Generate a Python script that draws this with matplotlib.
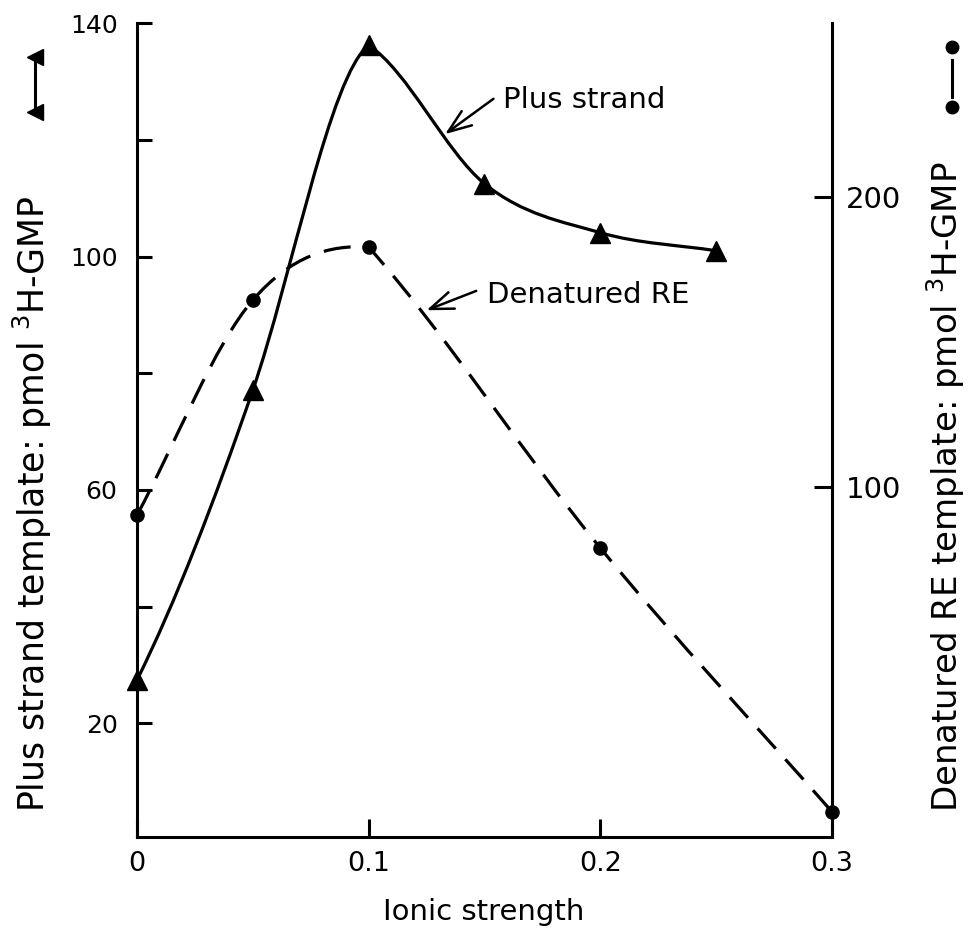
"""Plus strand vs denatured RE template activity against ionic strength."""

import numpy as np
import matplotlib
matplotlib.use("Agg")
import matplotlib.pyplot as plt
from matplotlib.path import Path
from matplotlib.patches import PathPatch
from matplotlib.lines import Line2D

# data
ionic_plus = [0.0, 0.05, 0.10, 0.15, 0.20, 0.25]
plus_strand = [27.4, 77.1, 136.2, 112.5, 104.1, 101.0]   # left axis

ionic_re = [0.0, 0.05, 0.10, 0.20, 0.30]
denatured_re = [90.3, 164.5, 182.8, 79.0, -12.0]           # right axis

x_ticks = [0, 0.1, 0.2, 0.3]
x_ticklabels = ["0", "0.1", "0.2", "0.3"]
left_major = [20, 60, 100, 140]
left_minor = [40, 80, 120]
right_ticks = [100, 200]


def smooth_path(x, y, corners=None):
    """Hand-drawn style curve through the points (cubic Bezier pieces).

    corners maps a point index to (slope in, slope out) so the pen can
    turn sharply there, like the drawn peaks.
    """
    x = np.asarray(x, float)
    y = np.asarray(y, float)
    d = np.empty_like(y)
    d[0] = (y[1] - y[0]) / (x[1] - x[0])
    d[-1] = (y[-1] - y[-2]) / (x[-1] - x[-2])
    d[1:-1] = (y[2:] - y[:-2]) / (x[2:] - x[:-2])
    d_in, d_out = d.copy(), d.copy()
    for i, (a, b) in (corners or {}).items():
        d_in[i], d_out[i] = a, b
    verts = [(x[0], y[0])]
    for i in range(len(x) - 1):
        h = x[i + 1] - x[i]
        verts += [(x[i] + h / 3, y[i] + d_out[i] * h / 3),
                  (x[i + 1] - h / 3, y[i + 1] - d_in[i + 1] * h / 3),
                  (x[i + 1], y[i + 1])]
    codes = [Path.MOVETO] + [Path.CURVE4] * (len(verts) - 1)
    return Path(verts, codes)


fig = plt.figure(figsize=(9.7, 9.3), dpi=100)
ax = fig.add_axes([0.1412, 0.1, 0.7165, 0.875])
ax2 = ax.twinx()

ax.set_xlim(0, 0.3)
ax.set_ylim(0.5, 140)
ax2.set_ylim(-20.7, 260)

# plus strand: solid curve, triangles
ax.add_patch(PathPatch(smooth_path(ionic_plus, plus_strand,
                                   corners={0: (800, 800), 1: (1150, 1150),
                                            2: (300, -250)}),
                       fill=False, lw=2.3, ec="black", transform=ax.transData))
ax.plot(ionic_plus, plus_strand, ls="none", marker="^", ms=14,
        color="black", clip_on=False, zorder=3)

# denatured RE: dashed curve, dots
ax2.add_patch(PathPatch(smooth_path(ionic_re, denatured_re,
                                    corners={2: (-50, -900)}),
                        fill=False, lw=2.3, ec="black", ls=(0, (8.5, 4.5)),
                        transform=ax2.transData))
ax2.plot(ionic_re, denatured_re, ls="none", marker="o", ms=9.5,
         color="black", clip_on=False, zorder=3)

# spines
for s in ["top", "right"]:
    ax.spines[s].set_visible(False)
for s in ["top", "left", "bottom"]:
    ax2.spines[s].set_visible(False)
for s in ["left", "bottom"]:
    ax.spines[s].set_linewidth(2.2)
ax2.spines["right"].set_linewidth(2.2)

# ticks
ax.set_xticks(x_ticks)
ax.set_xticklabels(x_ticklabels)
ax.set_yticks(left_major)
ax.set_yticks(left_minor, minor=True)
ax.tick_params(axis="both", which="both", direction="in", width=2.2,
               labelsize=18, colors="black")
ax.tick_params(axis="y", which="both", length=11, pad=14)
ax.tick_params(axis="x", length=13, pad=10, labelsize=19.5)
ax.tick_params(axis="x", which="minor", length=0)

ax2.set_yticks(right_ticks)
ax2.tick_params(axis="y", direction="in", length=13, width=2.2,
                labelsize=21, pad=10)

# annotations
arrow = dict(arrowstyle="->, head_length=0.8, head_width=0.3",
             lw=1.8, color="black", shrinkA=6, shrinkB=0, relpos=(0, 0.8))
ax.annotate("Plus strand", xy=(0.133, 121.0), xytext=(0.158, 126.8),
            fontsize=21, va="center", ha="left", arrowprops=arrow)
ax2.annotate("Denatured RE", xy=(0.125, 161.0), xytext=(0.151, 166.2),
             fontsize=21, va="center", ha="left", arrowprops=arrow)

# axis titles
fig.text(484 / 970, 1 - 912 / 930, "Ionic strength", fontsize=21,
         ha="center", va="center")
fig.text(32 / 970, 1 - 812 / 930, "Plus strand template: pmol $^{3}$H-GMP",
         rotation=90, fontsize=25, ha="center", va="bottom")
fig.text(946 / 970, 1 - 812 / 930, "Denatured RE template: pmol $^{3}$H-GMP",
         rotation=90, fontsize=24.5, ha="center", va="bottom")

# little keys after the axis titles
fig.add_artist(Line2D([35 / 970] * 2, [1 - 112 / 930, 1 - 57 / 930],
                      transform=fig.transFigure, color="black", lw=2.2,
                      marker="<", ms=12))
fig.add_artist(Line2D([952 / 970] * 2, [1 - 97 / 930, 1 - 60 / 930],
                      transform=fig.transFigure, color="black", lw=2.2))
fig.add_artist(Line2D([952 / 970] * 2, [1 - 107 / 930, 1 - 47 / 930],
                      transform=fig.transFigure, color="black", ls="none",
                      marker="o", ms=9))

fig.savefig("out.png", dpi=100, facecolor="white")
